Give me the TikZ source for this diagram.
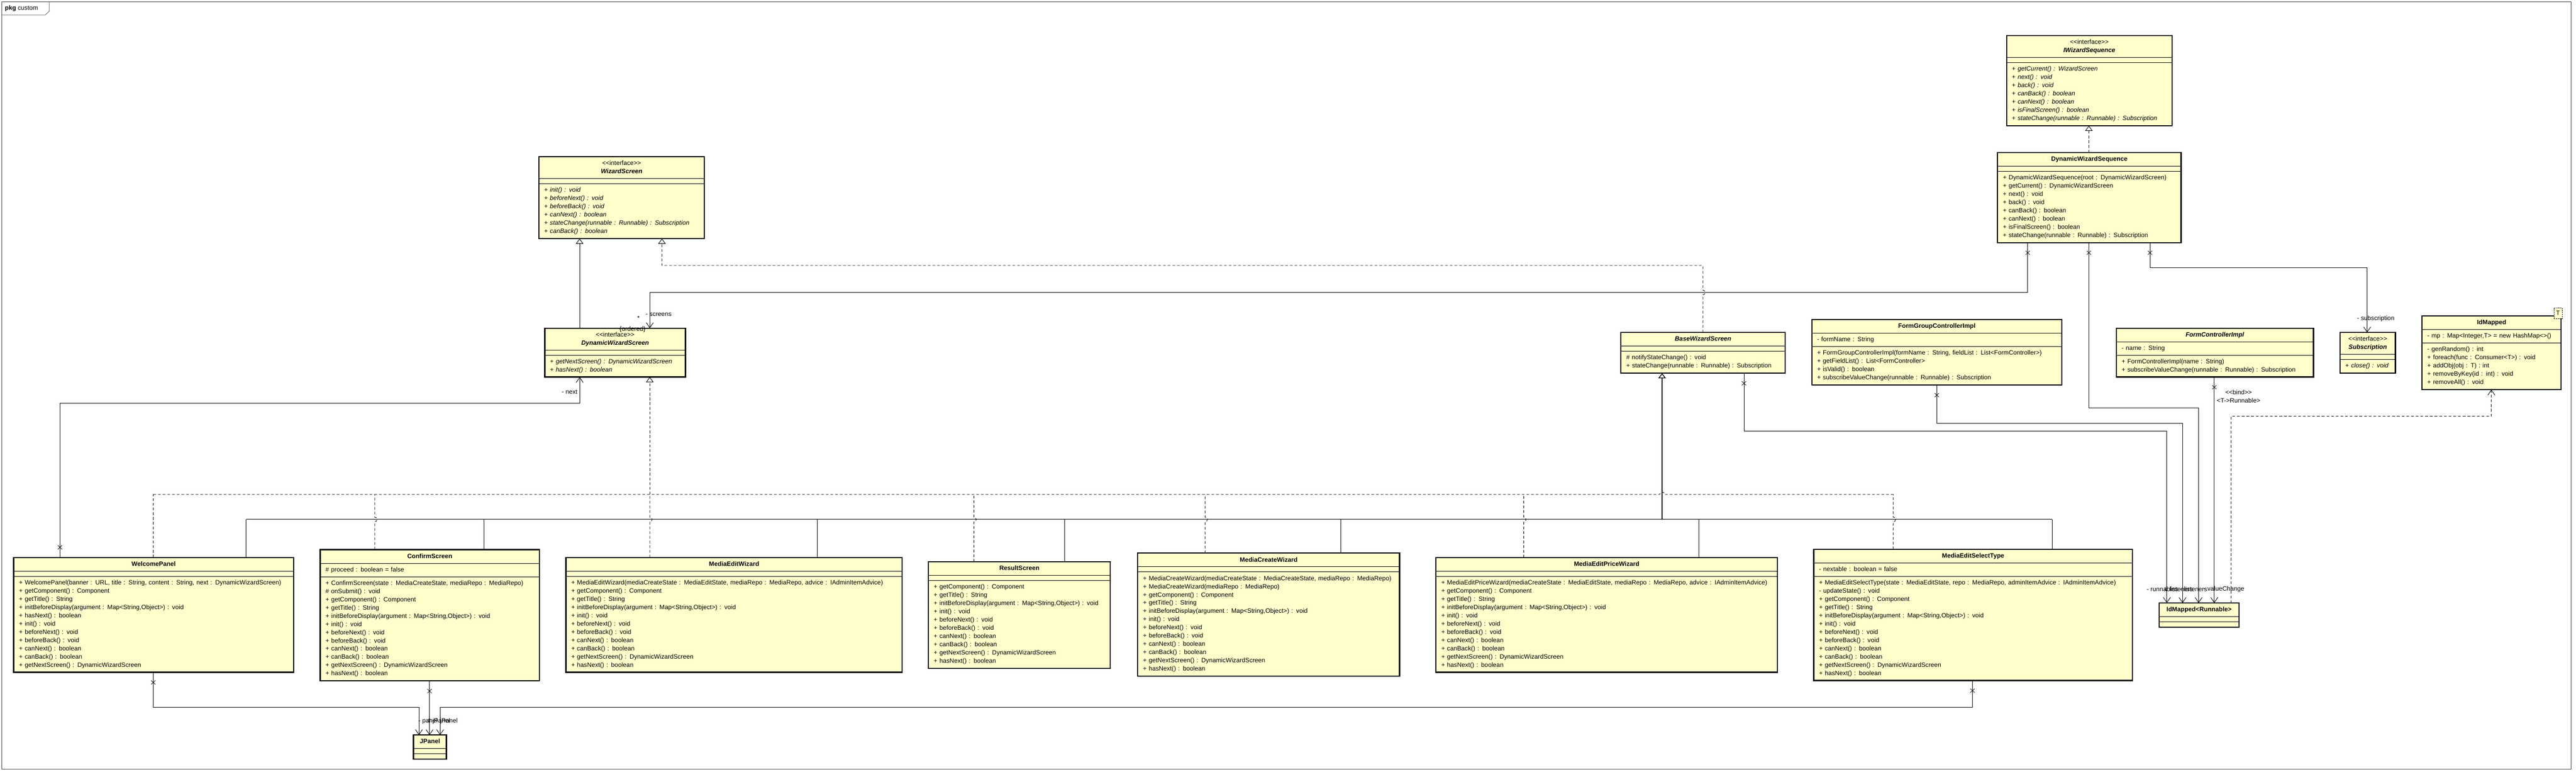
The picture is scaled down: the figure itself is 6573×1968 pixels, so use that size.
\documentclass[tikz,border=0pt]{standalone}
\usepackage{fontspec}
\setmainfont{Liberation Sans}[Ligatures=TeXOff]
\usetikzlibrary{shapes.multipart,arrows.meta,calc}
\definecolor{classfill}{RGB}{255,255,204}
\def\cname#1{\centering\strut\textbf{#1}\par}
\def\aname#1{\centering\strut\textbf{\textit{#1}}\par}
\def\stereo{\centering\strut<<interface>>\par}
\def\mline#1{\strut#1\par}
\def\aline#1#2{\strut#1 \textit{#2}\par}
\def\screenops{%
  \mline{+ getComponent() : Component}%
  \mline{+ getTitle() : String}%
  \mline{+ initBeforeDisplay(argument : Map<String,Object>) : void}%
  \mline{+ init() : void}%
  \mline{+ beforeNext() : void}%
  \mline{+ beforeBack() : void}%
  \mline{+ canNext() : boolean}%
  \mline{+ canBack() : boolean}%
  \mline{+ getNextScreen() : DynamicWizardScreen}%
  \mline{+ hasNext() : boolean}%
}
\long\def\umlclass#1#2#3#4#5#6{%
  \node [classbox, text width=#2] (#1) at (#3) {#4\nodepart{two}#5\nodepart{three}#6};
  \draw [classframe] (#1.north west) rectangle (#1.south east);
}
\def\xmark#1{%
  \draw [line width=1pt] (#1) +(-5.5,-5) -- +(5.5,5) +(-5.5,5) -- +(5.5,-5);
}
\begin{document}
\begin{tikzpicture}[x=1pt, y=-1pt, line width=1.2pt,
    font=\fontsize{16}{21}\selectfont,
    classbox/.style={rectangle split, rectangle split parts=3, draw, fill=classfill,
      anchor=north west, inner xsep=13pt, inner ysep=6pt,
      rectangle split empty part height=0pt, rectangle split empty part depth=0pt},
    classframe/.style={line width=3pt},
    dep/.style={dash pattern=on 7pt off 5pt},
    nav/.style={-{Straight Barb[length=13pt, width=18pt]}},
    gen/.style={-{Triangle[fill=white, length=13pt, width=19pt]}},
    lbl/.style={inner sep=0pt}]

  \useasboundingbox (0,0) rectangle (6573,1968);
  \draw [line width=1pt, black!75] (4,4) rectangle (6560,1962);
  \draw [line width=1pt, black!75] (4,38) -- (116,38) -- (126,28) -- (126,4);
  \node [lbl, anchor=west] (pkgname) at (12,21) {\textbf{pkg} custom};

  \umlclass{iwseq}{395pt}{5120,91}{\stereo\aname{IWizardSequence}}{}{%
    \aline{+}{getCurrent() : WizardScreen}\aline{+}{next() : void}%
    \aline{+}{back() : void}\aline{+}{canBack() : boolean}%
    \aline{+}{canNext() : boolean}\aline{+}{isFinalScreen() : boolean}%
    \aline{+}{stateChange(runnable : Runnable) : Subscription}}
  \umlclass{dwseq}{441pt}{5097,389}{\cname{DynamicWizardSequence}}{}{%
    \mline{+ DynamicWizardSequence(root : DynamicWizardScreen)}%
    \mline{+ getCurrent() : DynamicWizardScreen}\mline{+ next() : void}%
    \mline{+ back() : void}\mline{+ canBack() : boolean}%
    \mline{+ canNext() : boolean}\mline{+ isFinalScreen() : boolean}%
    \mline{+ stateChange(runnable : Runnable) : Subscription}}
  \umlclass{wscreen}{395pt}{1375,400}{\stereo\aname{WizardScreen}}{}{%
    \aline{+}{init() : void}\aline{+}{beforeNext() : void}%
    \aline{+}{beforeBack() : void}\aline{+}{canNext() : boolean}%
    \aline{+}{stateChange(runnable : Runnable) : Subscription}%
    \aline{+}{canBack() : boolean}}
  \umlclass{dwscreen}{332pt}{1390,837}{\stereo\aname{DynamicWizardScreen}}{}{%
    \aline{+}{getNextScreen() : DynamicWizardScreen}\aline{+}{hasNext() : boolean}}
  \umlclass{bwscreen}{392pt}{4136,848}{\aname{BaseWizardScreen}}{}{%
    \mline{\# notifyStateChange() : void}%
    \mline{+ stateChange(runnable : Runnable) : Subscription}}
  \umlclass{fgci}{611pt}{4623,815}{\cname{FormGroupControllerImpl}}{\mline{- formName : String}}{%
    \mline{+ FormGroupControllerImpl(formName : String, fieldList : List<FormController>)}%
    \mline{+ getFieldList() : List<FormController>}\mline{+ isValid() : boolean}%
    \mline{+ subscribeValueChange(runnable : Runnable) : Subscription}}
  \umlclass{fci}{476pt}{5400,837}{\aname{FormControllerImpl}}{\mline{- name : String}}{%
    \mline{+ FormControllerImpl(name : String)}%
    \mline{+ subscribeValueChange(runnable : Runnable) : Subscription}}
  \umlclass{subs}{114pt}{5971,848}{\stereo\aname{Subscription}}{}{\aline{+}{close() : void}}
  \umlclass{idmapped}{328pt}{6180,806}{\cname{IdMapped}}{%
    \mline{- mp : Map<Integer,T> = new HashMap<>()}}{%
    \mline{- genRandom() : int}\mline{+ foreach(func : Consumer<T>) : void}%
    \mline{+ addObj(obj : T) : int}\mline{+ removeByKey(id : int) : void}%
    \mline{+ removeAll() : void}}
  \node [draw, fill=classfill, line width=1pt, dash pattern=on 3pt off 2pt,
    minimum width=21pt, minimum height=27pt, inner sep=0pt] (idmappedT) at (6527,799) {T};
  \umlclass{idmr}{177pt}{5509,1538}{\cname{IdMapped<Runnable>}}{}{}

  \umlclass{welcome}{687pt}{35,1422}{\cname{WelcomePanel}}{}{%
    \mline{+ WelcomePanel(banner : URL, title : String, content : String, next : DynamicWizardScreen)}%
    \mline{+ getComponent() : Component}\mline{+ getTitle() : String}%
    \mline{+ initBeforeDisplay(argument : Map<String,Object>) : void}%
    \mline{+ hasNext() : boolean}\mline{+ init() : void}%
    \mline{+ beforeNext() : void}\mline{+ beforeBack() : void}%
    \mline{+ canNext() : boolean}\mline{+ canBack() : boolean}%
    \mline{+ getNextScreen() : DynamicWizardScreen}}
  \umlclass{confirm}{532pt}{817,1402}{\cname{ConfirmScreen}}{\mline{\# proceed : boolean = false}}{%
    \mline{+ ConfirmScreen(state : MediaCreateState, mediaRepo : MediaRepo)}%
    \mline{\# onSubmit() : void}\screenops}
  \umlclass{mew}{831pt}{1444,1422}{\cname{MediaEditWizard}}{}{%
    \mline{+ MediaEditWizard(mediaCreateState : MediaEditState, mediaRepo : MediaRepo, advice : IAdminItemAdvice)}%
    \screenops}
  \umlclass{result}{437pt}{2369,1433}{\cname{ResultScreen}}{}{\screenops}
  \umlclass{mcw}{641pt}{2903,1411}{\cname{MediaCreateWizard}}{}{%
    \mline{+ MediaCreateWizard(mediaCreateState : MediaCreateState, mediaRepo : MediaRepo)}%
    \mline{+ MediaCreateWizard(mediaRepo : MediaRepo)}\screenops}
  \umlclass{mepw}{844pt}{3664,1422}{\cname{MediaEditPriceWizard}}{}{%
    \mline{+ MediaEditPriceWizard(mediaCreateState : MediaEditState, mediaRepo : MediaRepo, advice : IAdminItemAdvice)}%
    \screenops}
  \umlclass{mest}{786pt}{4628,1401}{\cname{MediaEditSelectType}}{\mline{- nextable : boolean = false}}{%
    \mline{+ MediaEditSelectType(state : MediaEditState, repo : MediaRepo, adminItemAdvice : IAdminItemAdvice)}%
    \mline{- updateState() : void}\screenops}
  \umlclass{jpanel}{57pt}{1055,1875}{\cname{JPanel}}{}{}

  \draw [dep, gen] (dwseq.north -| 5330,0) -- (iwseq.south -| 5330,0);
  \draw [gen] (dwscreen.north -| 1479,0) -- (wscreen.south -| 1479,0);
  \draw [dep, gen] (bwscreen.north -| 4345,0) -- (4345,752)
    arc [start angle=-90, end angle=90, radius=6pt] -- (4345,677) -- (1689,677)
    -- (wscreen.south -| 1689,0);

  \draw [nav] (dwseq.south -| 5174,0) -- (5174,746) -- (1658,746) -- (dwscreen.north -| 1658,0);
  \draw [nav] (dwseq.south -| 5330,0) -- (5330,1040) -- (5610,1040) -- (idmr.north -| 5610,0);
  \draw [nav] (dwseq.south -| 5486,0) -- (5486,683) -- (6040,683) -- (subs.north -| 6040,0);
  \xmark{$(dwseq.south -| 5174,0)+(0,26)$}
  \xmark{$(dwseq.south -| 5330,0)+(0,26)$}
  \xmark{$(dwseq.south -| 5486,0)+(0,26)$}

  \draw [nav] (bwscreen.south -| 4450,0) -- (4450,1100) -- (5529,1100) -- (idmr.north -| 5529,0);
  \draw [nav] (fgci.south -| 4942,0) -- (4942,1080) -- (5569,1080) -- (idmr.north -| 5569,0);
  \draw [nav] (fci.south -| 5650,0) -- (idmr.north -| 5650,0);
  \xmark{$(bwscreen.south -| 4450,0)+(0,26)$}
  \xmark{$(fgci.south -| 4942,0)+(0,26)$}
  \xmark{$(fci.south -| 5650,0)+(0,26)$}
  \draw [dep, nav] (idmr.north -| 5693,0) -- (5693,1061) -- (6357,1061) -- (idmapped.south -| 6357,0);

  \draw [nav] (welcome.north -| 153,0) -- (153,1028) -- (1479,1028) -- (dwscreen.south -| 1479,0);
  \xmark{$(welcome.north -| 153,0)+(0,-26)$}

  \draw [dep, gen] (1658,1261) -- (dwscreen.south -| 1658,0);
  \draw [dep] (391,1261) -- (4235,1261) arc [start angle=180, end angle=0, radius=6pt] -- (4831,1261);
  \draw [dep] (welcome.north -| 391,0) -- (391,1261);
  \draw [dep] (confirm.north -| 956,0) -- (956,1331)
    arc [start angle=-90, end angle=90, radius=6pt] -- (956,1261);
  \draw [dep] (mew.north -| 1658,0) -- (1658,1331)
    arc [start angle=-90, end angle=90, radius=6pt] -- (1658,1261);
  \draw [dep] (result.north -| 2485,0) -- (2485,1331)
    arc [start angle=-90, end angle=90, radius=6pt] -- (2485,1261);
  \draw [dep] (mcw.north -| 3075,0) -- (3075,1331)
    arc [start angle=-90, end angle=90, radius=6pt] -- (3075,1261);
  \draw [dep] (mepw.north -| 3888,0) -- (3888,1331)
    arc [start angle=-90, end angle=90, radius=6pt] -- (3888,1261);
  \draw [dep] (mest.north -| 4831,0) -- (4831,1331)
    arc [start angle=-90, end angle=90, radius=6pt] -- (4831,1261);

  \draw [gen, line width=1.8pt] (4241,1325) -- (bwscreen.south -| 4241,0);
  \draw (628,1325) -- (5236,1325);
  \draw (welcome.north -| 628,0) -- (628,1325);
  \draw (confirm.north -| 1235,0) -- (1235,1325);
  \draw (mew.north -| 2086,0) -- (2086,1325);
  \draw (result.north -| 2716,0) -- (2716,1325);
  \draw (mcw.north -| 3421,0) -- (3421,1325);
  \draw (mepw.north -| 4335,0) -- (4335,1325);
  \draw (mest.north -| 5236,0) -- (5236,1325);

  \draw [nav] (welcome.south -| 391,0) -- (391,1804) -- (1069,1804) -- (jpanel.north -| 1069,0);
  \draw [nav] (confirm.south -| 1096,0) -- (jpanel.north -| 1096,0);
  \draw [nav] (mest.south -| 5033,0) -- (5033,1804) -- (1123,1804) -- (jpanel.north -| 1123,0);
  \xmark{$(welcome.south -| 391,0)+(0,26)$}
  \xmark{$(confirm.south -| 1096,0)+(0,26)$}
  \xmark{$(mest.south -| 5033,0)+(0,26)$}

  \node [lbl, anchor=west] (screenslbl) at (1647,802) {- screens};
  \node [lbl] (screensmult) at (1629,812) {*};
  \node [lbl] (screensord) at (1614,840) {\{ordered\}};
  \node [lbl, anchor=east] (nextlbl) at (1474,1000) {- next};
  \node [lbl] (subslbl) at (6062,813) {- subscription};
  \node [lbl] (bindlbl) at (5712,1000) {<<bind>>};
  \node [lbl] (bindargs) at (5712,1022) {<T->Runnable>};
  \node [lbl, anchor=west] (panellbl) at (1067,1840) {- panel};
  \node [lbl, anchor=west] (jpanellbla) at (1090,1840) {\# jPanel};
  \node [lbl, anchor=west] (jpanellblb) at (1113,1840) {- jPanel};
  \node [lbl, anchor=west] (runlbla) at (5477,1503) {- runnables};
  \node [lbl, anchor=west] (runlblb) at (5522,1503) {\# listeners};
  \node [lbl, anchor=west] (runlblc) at (5562,1503) {- listeners};
  \node [lbl, anchor=west] (runlbld) at (5622,1503) {- valueChange};

\end{tikzpicture}
\end{document}
